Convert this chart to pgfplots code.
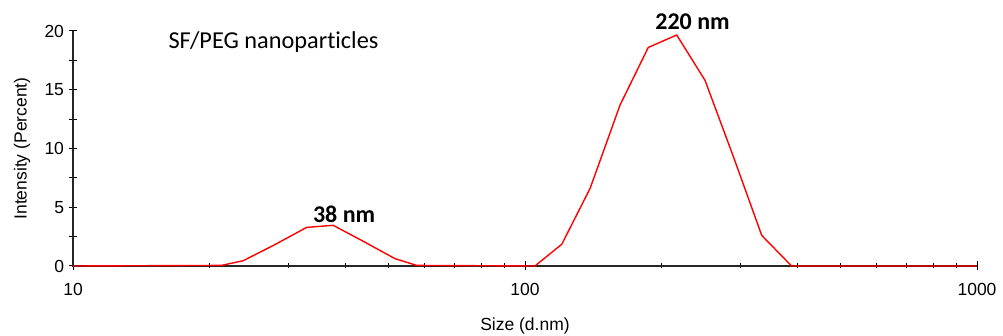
\documentclass[border=0pt]{standalone}
\usepackage{fontspec}
\setmainfont{Liberation Sans}
\newfontfamily\calibri[Ligatures={NoCommon}]{Carlito}
\usepackage{pgfplots}
\pgfplotsset{compat=1.18}
\begin{document}
\begin{tikzpicture}
\path[use as bounding box] (-73pt,-70pt) rectangle (930pt,266pt);
\begin{axis}[
  scale only axis,
  width=904pt, height=235pt,
  xmode=log,
  xmin=10, xmax=1000,
  ymin=0, ymax=20,
  axis lines*=left,
  axis line style={draw=none},
  xtick={10,100,1000},
  xticklabels={10,100,1000},
  minor xtick={20,30,40,50,60,70,80,90,200,300,400,500,600,700,800,900},
  ytick={0,5,10,15,20},
  extra y ticks={2.5,7.5,12.5,17.5},
  extra y tick labels={},
  tick align=center,
  major tick length=9pt,
  minor tick length=5pt,
  every tick/.style={black, line width=1pt},
  /pgf/number format/assume math mode=true,
  tick label style={font=\fontsize{17.5}{20}\selectfont, black},
  xticklabel style={yshift=-9pt},
  yticklabel style={xshift=-1pt},
  xlabel={Size (d.nm)},
  ylabel={Intensity (Percent)},
  label style={font=\fontsize{17.5}{20}\selectfont},
  xlabel style={at={(axis description cs:0.5,-0.255)}, anchor=center},
  ylabel style={at={(axis description cs:-0.0564,0.5)}, anchor=center, rotate=0},
  clip=false,
]
\draw[line width=1.4pt, black!85] (axis cs:10,20) -- (axis cs:10,0) -- (axis cs:1000,0);
\addplot[red, line width=1.4pt] coordinates {
  (10,0) (21.3,0.05) (23.8,0.45) (28.0,1.83) (32.9,3.29) (37.65,3.46)
  (43.2,2.24) (51.6,0.62) (57.6,0.05) (105.2,0) (120.6,1.85) (139.3,6.6)
  (162.3,13.7) (187.4,18.6) (216.6,19.66) (250.2,15.8) (290.0,9.16)
  (334,2.6) (389,0) (1000,0)
};
\node[anchor=base west, font=\calibri\fontsize{24.3}{27}\selectfont] at (axis cs:15.98,18.55) {SF/PEG nanoparticles};
\node[anchor=base, font=\calibri\bfseries\fontsize{24}{27}\selectfont] at (axis cs:39.8,3.74) {38 nm};
\node[anchor=base, font=\calibri\bfseries\fontsize{24}{27}\selectfont] at (axis cs:234.8,20.09) {220 nm};
\end{axis}
\end{tikzpicture}
\end{document}
